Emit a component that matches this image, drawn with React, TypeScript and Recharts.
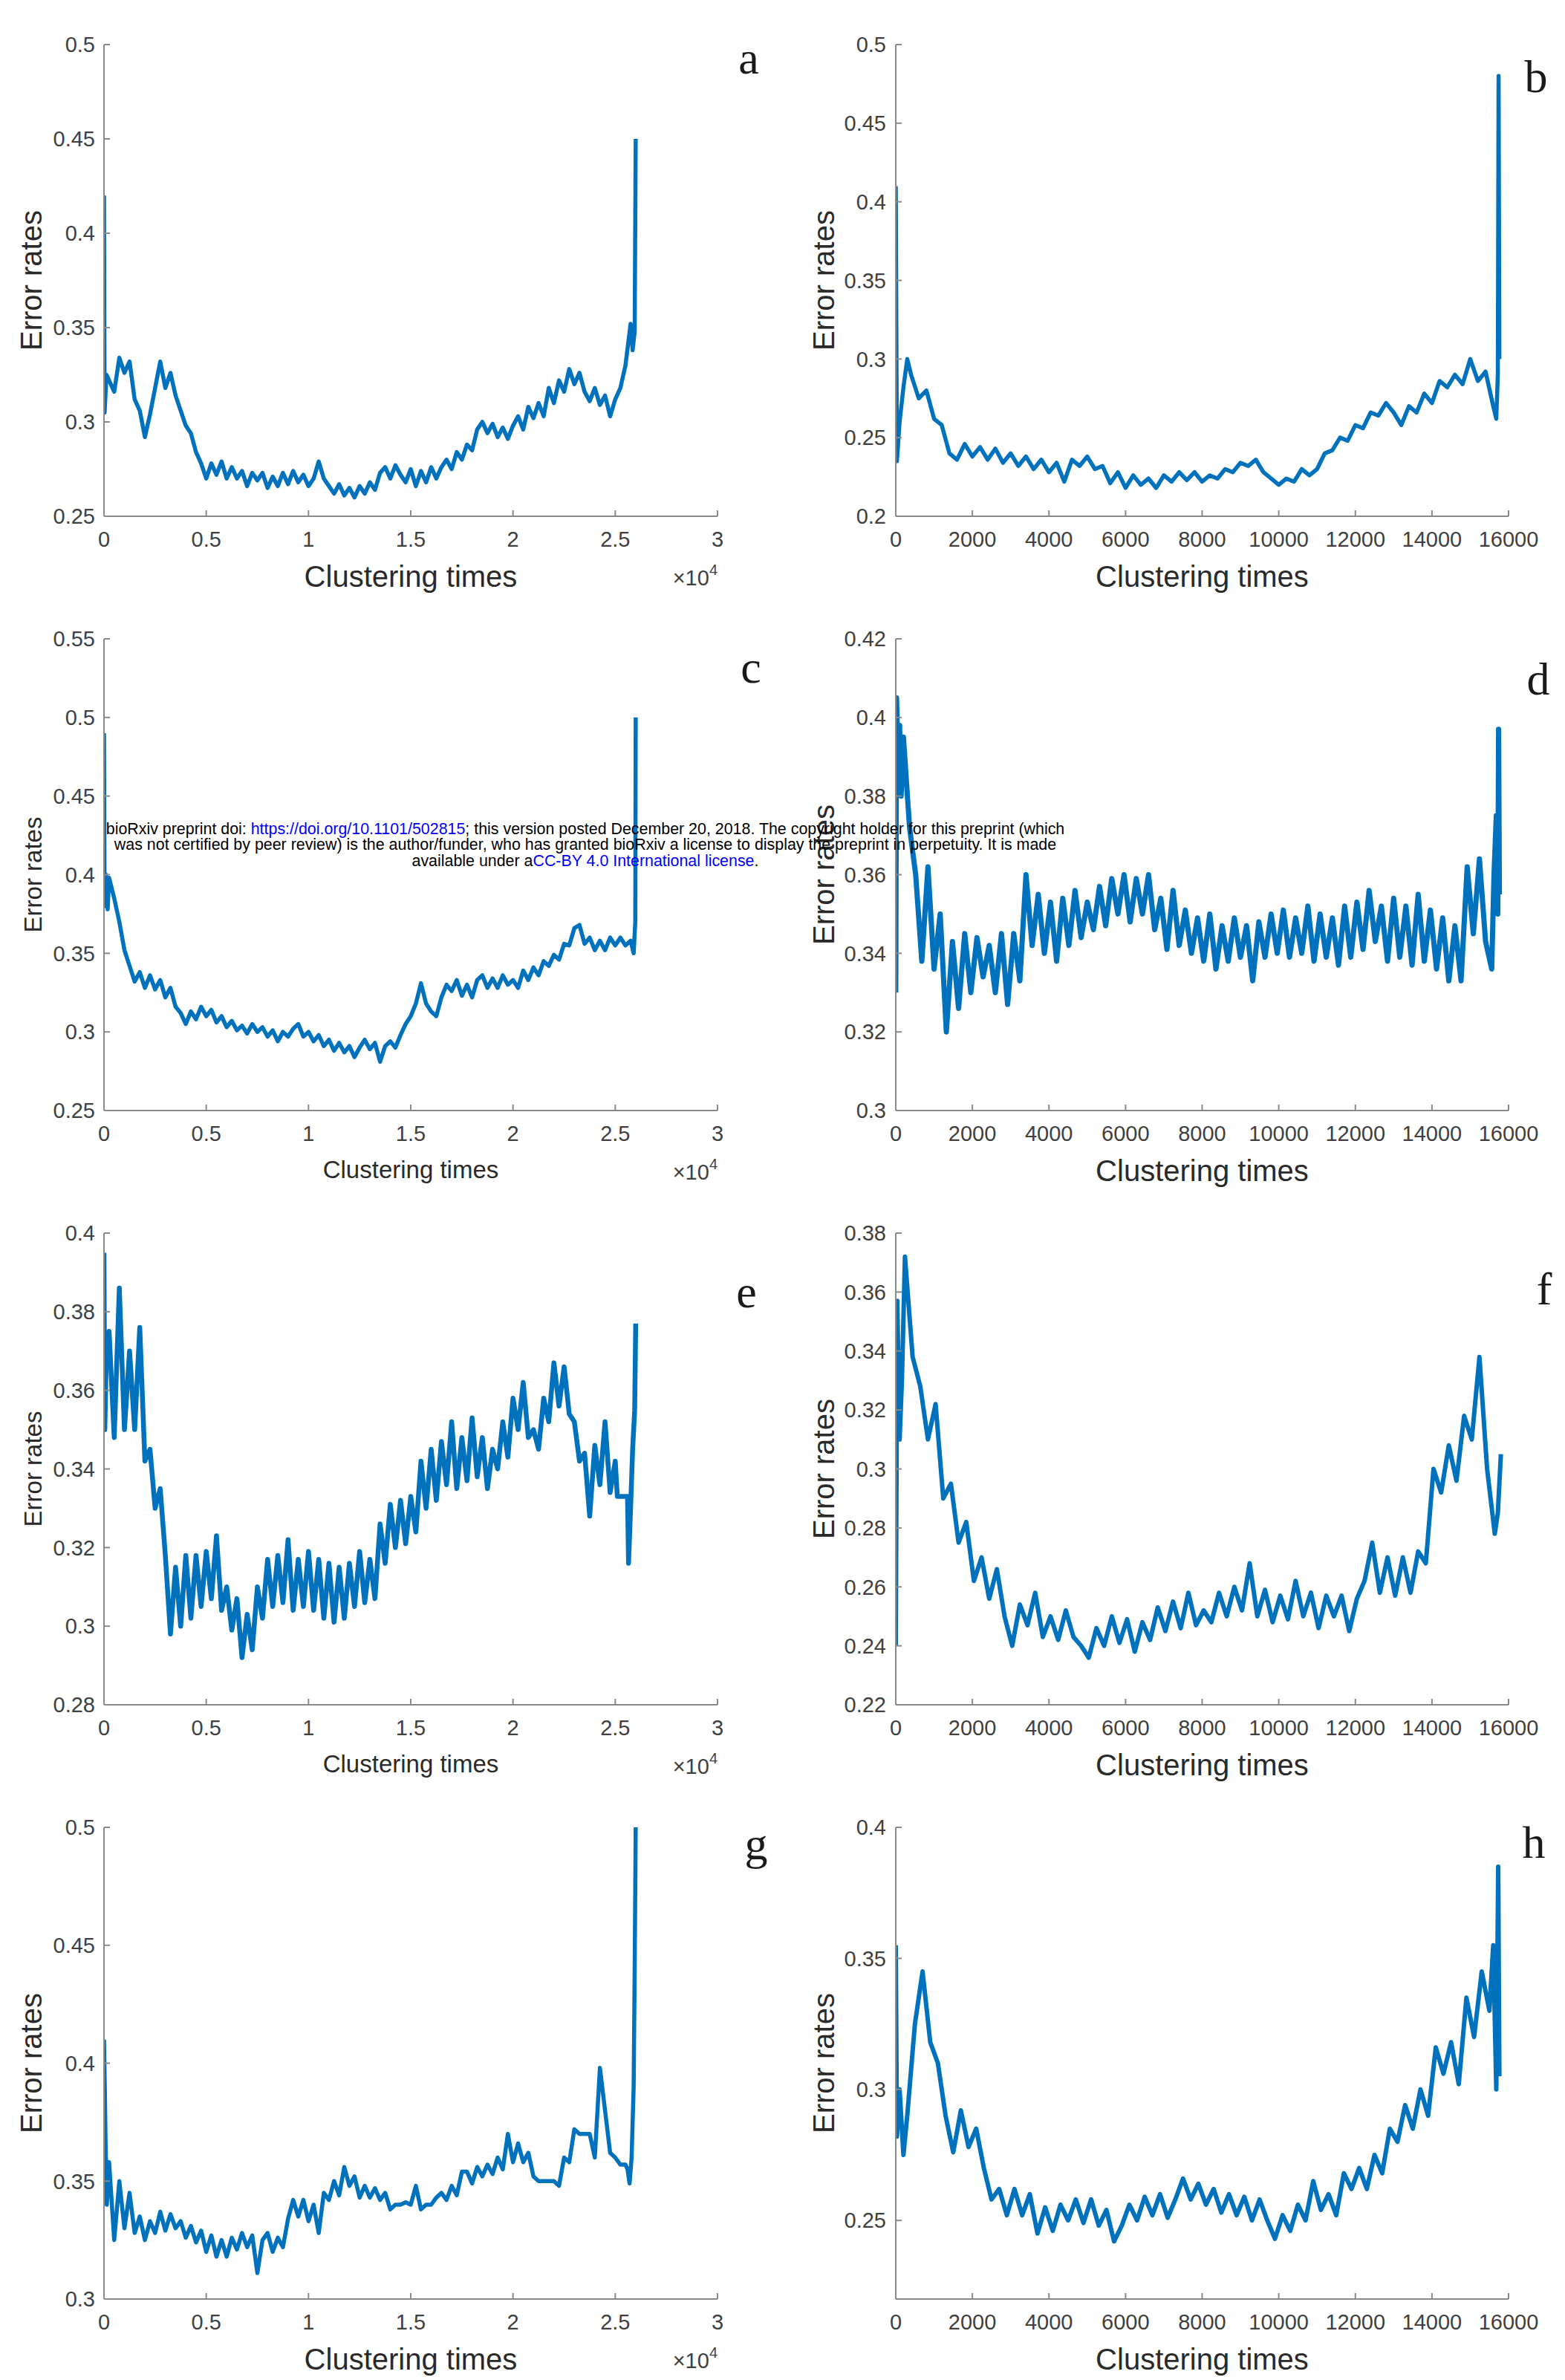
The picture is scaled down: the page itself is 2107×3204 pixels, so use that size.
import React from 'react';
import { LineChart, Line, XAxis, YAxis } from 'recharts';

type Pt = [number, number];

// ---------- axes ----------
const xTicksLong = [0, 5000, 10000, 15000, 20000, 25000, 30000];
const xTicksShort = [0, 2000, 4000, 6000, 8000, 10000, 12000, 14000, 16000];

const yTicksA = [0.25, 0.3, 0.35, 0.4, 0.45, 0.5];
const yTicksB = [0.2, 0.25, 0.3, 0.35, 0.4, 0.45, 0.5];
const yTicksC = [0.25, 0.3, 0.35, 0.4, 0.45, 0.5, 0.55];
const yTicksD = [0.3, 0.32, 0.34, 0.36, 0.38, 0.4, 0.42];
const yTicksE = [0.28, 0.3, 0.32, 0.34, 0.36, 0.38, 0.4];
const yTicksF = [0.22, 0.24, 0.26, 0.28, 0.3, 0.32, 0.34, 0.36, 0.38];
const yTicksG = [0.3, 0.35, 0.4, 0.45, 0.5];
const yTicksH = [0.25, 0.3, 0.35, 0.4];

// ---------- panel a ----------
const aStart: Pt[] = [[0, 0.42], [30, 0.305], [120, 0.325]];
const aX0 = 250, aStep = 250;
const aVals = [
  0.322, 0.316, 0.334, 0.326, 0.332, 0.312, 0.306, 0.292, 0.304, 0.318,
  0.332, 0.318, 0.326, 0.314, 0.306, 0.298, 0.294, 0.284, 0.278, 0.27,
  0.278, 0.272, 0.279, 0.27, 0.276, 0.27, 0.274, 0.266, 0.273, 0.269,
  0.273, 0.265, 0.271, 0.266, 0.273, 0.267, 0.274, 0.268, 0.272, 0.266,
  0.27, 0.279, 0.27, 0.266, 0.262, 0.267, 0.261, 0.265, 0.26, 0.266,
  0.262, 0.268, 0.264, 0.273, 0.276, 0.27, 0.277, 0.272, 0.268, 0.275,
  0.266, 0.274, 0.268, 0.276, 0.27, 0.276, 0.28, 0.275, 0.284, 0.28,
  0.288, 0.285, 0.296, 0.3, 0.294, 0.299, 0.292, 0.297, 0.291, 0.298,
  0.303, 0.296, 0.308, 0.302, 0.31, 0.303, 0.318, 0.31, 0.322, 0.316,
  0.328, 0.32, 0.326, 0.316, 0.311, 0.318, 0.309, 0.314, 0.303, 0.312,
  0.318, 0.33, 0.352,
];
const aEnd: Pt[] = [[25850, 0.338], [25950, 0.348], [26000, 0.45]];

// ---------- panel b ----------
const bStart: Pt[] = [[0, 0.41], [30, 0.235], [100, 0.26], [200, 0.282], [300, 0.3]];
const bX0 = 400, bStep = 200;
const bVals = [
  0.29, 0.275, 0.28, 0.262, 0.258, 0.24, 0.236, 0.246, 0.238, 0.244,
  0.236, 0.243, 0.234, 0.24, 0.232, 0.238, 0.23, 0.236, 0.228, 0.234,
  0.222, 0.236, 0.232, 0.238, 0.23, 0.232, 0.221, 0.228, 0.218, 0.226,
  0.22, 0.224, 0.218, 0.226, 0.222, 0.228, 0.223, 0.228, 0.222, 0.226,
  0.224, 0.23, 0.228, 0.234, 0.232, 0.236, 0.228, 0.224, 0.22, 0.224,
  0.222, 0.23, 0.226, 0.23, 0.24, 0.242, 0.25, 0.248, 0.258, 0.256,
  0.266, 0.264, 0.272, 0.266, 0.258, 0.27, 0.266, 0.278, 0.272, 0.286,
  0.282, 0.29, 0.284, 0.3, 0.286, 0.292, 0.27,
];
const bEnd: Pt[] = [[15680, 0.262], [15720, 0.29], [15740, 0.48], [15760, 0.3]];

// ---------- panel c ----------
const cStart: Pt[] = [[0, 0.49], [30, 0.38], [100, 0.4], [180, 0.378]];
const cX0 = 250, cStep = 250;
const cVals = [
  0.398, 0.385, 0.37, 0.352, 0.342, 0.332, 0.338, 0.328, 0.336, 0.327,
  0.333, 0.322, 0.328, 0.316, 0.312, 0.305, 0.313, 0.308, 0.316, 0.31,
  0.314, 0.306, 0.31, 0.303, 0.307, 0.301, 0.304, 0.299, 0.305, 0.3,
  0.303, 0.297, 0.301, 0.294, 0.3, 0.297, 0.302, 0.305, 0.297, 0.3,
  0.294, 0.298, 0.291, 0.295, 0.288, 0.293, 0.287, 0.291, 0.284, 0.29,
  0.295, 0.289, 0.293, 0.281, 0.291, 0.294, 0.29, 0.298, 0.305, 0.31,
  0.318, 0.331, 0.318, 0.313, 0.31, 0.322, 0.33, 0.326, 0.333, 0.323,
  0.33, 0.322, 0.333, 0.336, 0.328, 0.334, 0.328, 0.336, 0.33, 0.333,
  0.328, 0.339, 0.333, 0.341, 0.336, 0.345, 0.342, 0.349, 0.346, 0.356,
  0.355, 0.366, 0.368, 0.356, 0.36, 0.352, 0.358, 0.352, 0.36, 0.355,
  0.36, 0.355, 0.358,
];
const cEnd: Pt[] = [[25900, 0.35], [25980, 0.37], [26000, 0.5]];

// ---------- panel d ----------
const dStart: Pt[] = [[0, 0.33], [20, 0.405], [60, 0.39], [100, 0.398], [140, 0.38]];
const dX0 = 200, dStep = 160;
const dVals = [
  0.395, 0.372, 0.36, 0.338, 0.362, 0.336, 0.35, 0.32, 0.343, 0.326,
  0.345, 0.33, 0.344, 0.334, 0.342, 0.33, 0.345, 0.327, 0.345, 0.333,
  0.36, 0.342, 0.355, 0.34, 0.353, 0.338, 0.354, 0.342, 0.356, 0.344,
  0.353, 0.346, 0.357, 0.347, 0.359, 0.35, 0.36, 0.348, 0.359, 0.35,
  0.36, 0.346, 0.354, 0.341, 0.356, 0.342, 0.351, 0.34, 0.349, 0.338,
  0.35, 0.336, 0.347, 0.338, 0.349, 0.339, 0.347, 0.333, 0.348, 0.339,
  0.35, 0.34, 0.351, 0.339, 0.349, 0.34, 0.352, 0.338, 0.35, 0.339,
  0.349, 0.337, 0.352, 0.339, 0.353, 0.341, 0.356, 0.343, 0.352, 0.338,
  0.354, 0.339, 0.352, 0.337, 0.355, 0.338, 0.351, 0.336, 0.349, 0.333,
  0.347, 0.333, 0.362, 0.345, 0.364, 0.343, 0.336,
];
const dEnd: Pt[] = [[15620, 0.36], [15680, 0.375], [15720, 0.35], [15740, 0.397], [15760, 0.355]];

// ---------- panel e ----------
const eStart: Pt[] = [[0, 0.395], [40, 0.35], [120, 0.37]];
const eX0 = 250, eStep = 250;
const eVals = [
  0.375, 0.348, 0.386, 0.35, 0.37, 0.35, 0.376, 0.342, 0.345, 0.33,
  0.335, 0.318, 0.298, 0.315, 0.3, 0.318, 0.302, 0.318, 0.305, 0.319,
  0.307, 0.323, 0.304, 0.31, 0.299, 0.307, 0.292, 0.303, 0.294, 0.31,
  0.302, 0.317, 0.305, 0.318, 0.306, 0.322, 0.304, 0.317, 0.305, 0.319,
  0.304, 0.317, 0.302, 0.316, 0.301, 0.315, 0.302, 0.316, 0.305, 0.319,
  0.306, 0.317, 0.307, 0.326, 0.316, 0.331, 0.32, 0.332, 0.321, 0.333,
  0.324, 0.342, 0.33, 0.345, 0.332, 0.347, 0.336, 0.352, 0.335, 0.348,
  0.337, 0.353, 0.338, 0.348, 0.335, 0.345, 0.34, 0.352, 0.343, 0.358,
  0.35, 0.362, 0.348, 0.35, 0.345, 0.358, 0.352, 0.367, 0.356, 0.366,
  0.354, 0.352, 0.342, 0.344, 0.328, 0.346, 0.336, 0.352, 0.334, 0.342,
];
const eEnd: Pt[] = [[25100, 0.333], [25600, 0.333], [25650, 0.316], [25750, 0.33], [25850, 0.345], [25950, 0.355], [26000, 0.377]];

// ---------- panel f ----------
const fStart: Pt[] = [[0, 0.24], [40, 0.357], [100, 0.31], [160, 0.33]];
const fX0 = 240, fStep = 200;
const fVals = [
  0.372, 0.338, 0.328, 0.31, 0.322, 0.29, 0.295, 0.275, 0.282, 0.262,
  0.27, 0.256, 0.266, 0.25, 0.24, 0.254, 0.247, 0.258, 0.243, 0.25,
  0.242, 0.252, 0.243, 0.24, 0.236, 0.246, 0.24, 0.25, 0.241, 0.249,
  0.238, 0.248, 0.242, 0.253, 0.245, 0.255, 0.246, 0.258, 0.247, 0.252,
  0.248, 0.258, 0.25, 0.26, 0.252, 0.268, 0.25, 0.259, 0.248, 0.257,
  0.249, 0.262, 0.25, 0.258, 0.246, 0.257, 0.25, 0.257, 0.245, 0.256,
  0.262, 0.275, 0.258, 0.27, 0.257, 0.27, 0.258, 0.272, 0.268, 0.3,
  0.292, 0.308, 0.296, 0.318, 0.31, 0.338, 0.3, 0.278,
];
const fEnd: Pt[] = [[15720, 0.285], [15800, 0.305]];

// ---------- panel g ----------
const gStart: Pt[] = [[0, 0.41], [40, 0.39], [80, 0.365], [140, 0.34]];
const gX0 = 250, gStep = 250;
const gVals = [
  0.358, 0.325, 0.35, 0.33, 0.345, 0.328, 0.335, 0.325, 0.333, 0.328,
  0.337, 0.329, 0.336, 0.33, 0.333, 0.326, 0.331, 0.324, 0.329, 0.32,
  0.327, 0.318, 0.325, 0.318, 0.326, 0.321, 0.328, 0.322, 0.327, 0.311,
  0.325, 0.328, 0.32, 0.326, 0.322, 0.334, 0.342, 0.335, 0.342, 0.333,
  0.34, 0.328, 0.345, 0.342, 0.35, 0.344, 0.356, 0.348, 0.352, 0.343,
  0.348, 0.343, 0.347, 0.342, 0.345, 0.338, 0.34, 0.34, 0.341, 0.34,
  0.348, 0.338, 0.34, 0.34, 0.343, 0.345, 0.342, 0.348, 0.344, 0.354,
  0.354, 0.349, 0.356, 0.352, 0.357, 0.353, 0.36, 0.355, 0.37, 0.358,
  0.366, 0.358, 0.362, 0.352, 0.35, 0.35, 0.35, 0.35, 0.348, 0.36,
  0.358, 0.372, 0.37, 0.37, 0.37, 0.36, 0.398, 0.38, 0.362, 0.36,
  0.357, 0.357,
];
const gEnd: Pt[] = [[25600, 0.355], [25700, 0.349], [25800, 0.36], [25900, 0.39], [25950, 0.44], [26000, 0.5]];

// ---------- panel h ----------
const hStart: Pt[] = [[0, 0.355], [30, 0.282], [100, 0.3], [200, 0.275]];
const hX0 = 300, hStep = 200;
const hVals = [
  0.29, 0.325, 0.345, 0.318, 0.31, 0.29, 0.276, 0.292, 0.278, 0.285,
  0.27, 0.258, 0.262, 0.252, 0.262, 0.252, 0.26, 0.245, 0.255, 0.246,
  0.256, 0.25, 0.258, 0.249, 0.258, 0.248, 0.254, 0.242, 0.248, 0.256,
  0.25, 0.259, 0.252, 0.26, 0.251, 0.258, 0.266, 0.258, 0.264, 0.256,
  0.262, 0.253, 0.26, 0.252, 0.259, 0.25, 0.258, 0.25, 0.243, 0.252,
  0.246, 0.256, 0.25, 0.265, 0.254, 0.26, 0.252, 0.268, 0.262, 0.27,
  0.262, 0.275, 0.268, 0.285, 0.28, 0.294, 0.285, 0.3, 0.29, 0.316,
  0.306, 0.318, 0.302, 0.335, 0.32, 0.345, 0.33,
];
const hEnd: Pt[] = [[15600, 0.355], [15680, 0.3], [15730, 0.385], [15760, 0.305]];

// ---------- styles ----------
const SANS = "'Liberation Sans', Arial, Helvetica, sans-serif";
const SERIF = "'Liberation Serif', 'Times New Roman', serif";
const LINE = '#0072BD';
const AXIS = '#8a8a8a';
const TICKTXT = '#404040';
const TITLE = '#2a2a2a';
const ROW_TOPS = [60, 860, 1660, 2460];
const PLOT_H = 635;
const COLS = [
  { boxLeft: 0, boxW: 1040, plotL: 140, plotR: 966 },
  { boxLeft: 1060, boxW: 1047, plotL: 1206, plotR: 2031 },
];

function buildSeries(start: Pt[], x0: number, step: number, vals: number[], end: Pt[]) {
  return [
    ...start.map(([x, y]) => ({ x, y })),
    ...vals.map((y, i) => ({ x: x0 + i * step, y })),
    ...end.map(([x, y]) => ({ x, y })),
  ];
}

type Panel = {
  letter: string;
  col: number;
  row: number;
  yDomain: [number, number];
  yTicks: number[];
  long: boolean;
  data: { x: number; y: number }[];
  titleSize: number;
  letterX: number;
  letterY: number;
  sw: number;
};

const panels: Panel[] = [
  { letter: 'a', col: 0, row: 0, yDomain: [0.25, 0.5], yTicks: yTicksA, long: true, data: buildSeries(aStart, aX0, aStep, aVals, aEnd), titleSize: 40, letterX: 1008, letterY: 99, sw: 5.5 },
  { letter: 'b', col: 1, row: 0, yDomain: [0.2, 0.5], yTicks: yTicksB, long: false, data: buildSeries(bStart, bX0, bStep, bVals, bEnd), titleSize: 40, letterX: 2068, letterY: 124, sw: 5.5 },
  { letter: 'c', col: 0, row: 1, yDomain: [0.25, 0.55], yTicks: yTicksC, long: true, data: buildSeries(cStart, cX0, cStep, cVals, cEnd), titleSize: 33, letterX: 1011, letterY: 919, sw: 5.5 },
  { letter: 'd', col: 1, row: 1, yDomain: [0.3, 0.42], yTicks: yTicksD, long: false, data: buildSeries(dStart, dX0, dStep, dVals, dEnd), titleSize: 40, letterX: 2071, letterY: 935, sw: 7 },
  { letter: 'e', col: 0, row: 2, yDomain: [0.28, 0.4], yTicks: yTicksE, long: true, data: buildSeries(eStart, eX0, eStep, eVals, eEnd), titleSize: 33, letterX: 1005, letterY: 1760, sw: 6.5 },
  { letter: 'f', col: 1, row: 2, yDomain: [0.22, 0.38], yTicks: yTicksF, long: false, data: buildSeries(fStart, fX0, fStep, fVals, fEnd), titleSize: 40, letterX: 2079, letterY: 1756, sw: 6 },
  { letter: 'g', col: 0, row: 3, yDomain: [0.3, 0.5], yTicks: yTicksG, long: true, data: buildSeries(gStart, gX0, gStep, gVals, gEnd), titleSize: 40, letterX: 1018, letterY: 2503, sw: 5.5 },
  { letter: 'h', col: 1, row: 3, yDomain: [0.22, 0.4], yTicks: yTicksH, long: false, data: buildSeries(hStart, hX0, hStep, hVals, hEnd), titleSize: 40, letterX: 2065, letterY: 2501, sw: 6 },
];

const fmtLong = (v: number) => String(v / 10000);
const fmtShort = (v: number) => String(v);

function PanelChart({ p }: { p: Panel }) {
  const col = COLS[p.col];
  const top = ROW_TOPS[p.row];
  const boxTop = top - 60;
  const yw = col.plotL - col.boxLeft;
  const rm = col.boxLeft + col.boxW - col.plotR;
  const xDomain: [number, number] = p.long ? [0, 30000] : [0, 16000];
  const xTicks = p.long ? xTicksLong : xTicksShort;
  const axisLine = { stroke: AXIS, strokeWidth: 2 };
  const tickLine = { stroke: AXIS, strokeWidth: 2 };
  const tickStyle = { fill: TICKTXT, fontSize: 29, fontFamily: SANS };
  return (
    <div style={{ position: 'absolute', left: col.boxLeft, top: boxTop }}>
      <LineChart width={col.boxW} height={800} data={p.data} margin={{ top: 60, right: rm, bottom: 0, left: 0 }}>
        <XAxis
          xAxisId="bottom"
          dataKey="x"
          type="number"
          domain={xDomain}
          ticks={xTicks}
          allowDataOverflow
          interval={0}
          tickFormatter={p.long ? fmtLong : fmtShort}
          height={105}
          tickSize={-8}
          tickMargin={28}
          axisLine={axisLine}
          tickLine={tickLine}
          tick={tickStyle}
        />
        <XAxis
          xAxisId="top"
          orientation="top"
          dataKey="x"
          type="number"
          domain={xDomain}
          ticks={xTicks}
          allowDataOverflow
          interval={0}
          height={0}
          tickSize={-8}
          axisLine={axisLine}
          tickLine={tickLine}
          tick={false}
        />
        <YAxis
          yAxisId="left"
          type="number"
          domain={p.yDomain}
          ticks={p.yTicks}
          allowDataOverflow
          interval={0}
          width={yw}
          tickSize={-8}
          tickMargin={p.col === 0 ? 20 : 21}
          axisLine={axisLine}
          tickLine={tickLine}
          tick={tickStyle}
        />
        <YAxis
          yAxisId="right"
          orientation="right"
          type="number"
          domain={p.yDomain}
          ticks={p.yTicks}
          allowDataOverflow
          interval={0}
          width={0}
          tickSize={-8}
          axisLine={axisLine}
          tickLine={tickLine}
          tick={false}
        />
        <Line
          xAxisId="bottom"
          yAxisId="left"
          type="linear"
          dataKey="y"
          stroke={LINE}
          strokeWidth={p.sw}
          strokeLinejoin="round"
          dot={false}
          activeDot={false}
          isAnimationActive={false}
        />
      </LineChart>
    </div>
  );
}

function Overlay() {
  return (
    <svg
      width={2107}
      height={3204}
      style={{ position: 'absolute', left: 0, top: 0, pointerEvents: 'none' }}
    >
      {panels.map((p) => {
        const col = COLS[p.col];
        const top = ROW_TOPS[p.row];
        const bottom = top + PLOT_H;
        const cx = (col.plotL + col.plotR) / 2;
        const cy = (top + bottom) / 2;
        const small = p.titleSize < 40;
        const titleBase = bottom + (small ? 91 : 95);
        const yLabelX = p.col === 0 ? 56 : 1123;
        return (
          <g key={p.letter}>
            <text x={cx} y={titleBase} textAnchor="middle" fontFamily={SANS} fontSize={p.titleSize} fill={TITLE}>
              Clustering times
            </text>
            <text
              x={yLabelX}
              y={cy}
              textAnchor="middle"
              fontFamily={SANS}
              fontSize={p.titleSize}
              fill={TITLE}
              transform={`rotate(-90 ${yLabelX} ${cy})`}
            >
              Error rates
            </text>
            {p.long && (
              <text x={col.plotR} y={bottom + 93} textAnchor="end" fontFamily={SANS} fontSize={29} fill={TICKTXT}>
                ×10
                <tspan fontSize={20} dy={-14}>4</tspan>
              </text>
            )}
            <text x={p.letterX} y={p.letterY} textAnchor="middle" fontFamily={SERIF} fontSize={62} fill="#1a1a1a">
              {p.letter}
            </text>
          </g>
        );
      })}
      <g fontFamily={SANS} fontSize={21.4} fill="#000" textAnchor="middle">
        <text x={788} y={1123}>
          bioRxiv preprint doi: <tspan fill="#0000ff">https://doi.org/10.1101/502815</tspan>; this version posted December 20, 2018. The copyright holder for this preprint (which
        </text>
        <text x={788} y={1144}>
          was not certified by peer review) is the author/funder, who has granted bioRxiv a license to display the preprint in perpetuity. It is made
        </text>
        <text x={788} y={1166}>
          available under a<tspan fill="#0000ff">CC-BY 4.0 International license</tspan>.
        </text>
      </g>
    </svg>
  );
}

export default function App() {
  return (
    <div style={{ position: 'absolute', left: 0, top: 0, width: 2107, height: 3204, background: '#fff' }}>
      {panels.map((p) => (
        <PanelChart key={p.letter} p={p} />
      ))}
      <Overlay />
    </div>
  );
}
